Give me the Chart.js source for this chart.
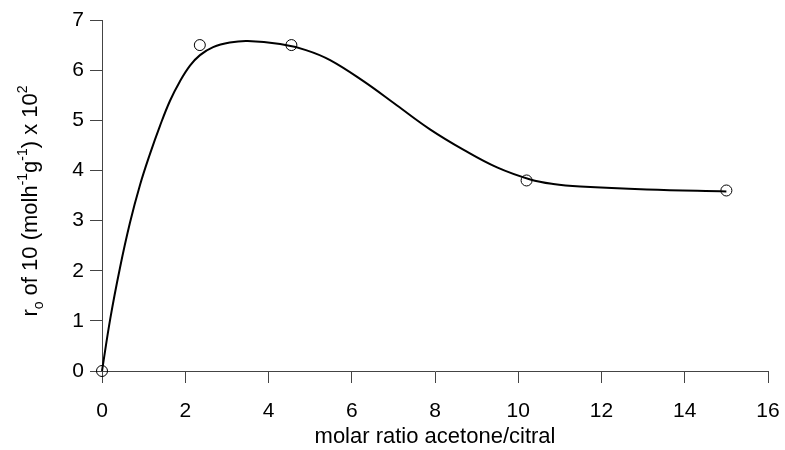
<!DOCTYPE html>
<html>
<head>
<meta charset="utf-8">
<script src="https://cdn.jsdelivr.net/npm/chart.js@4/dist/chart.umd.min.js"></script>
<style>
html,body{margin:0;padding:0;background:#fff;}
#wrap{width:785px;height:450px;position:relative;}
</style>
</head>
<body>
<div id="wrap"><canvas id="c" width="785" height="450"></canvas></div>
<script>
// Measured data points
const pointX = [0, 2.35, 4.55, 10.2, 15.0];
const pointY = [0, 6.5, 6.5, 3.8, 3.6];

// Fitted curve
const curveX = [0, 0.2, 0.43, 0.67, 0.913, 1.153, 1.393, 1.634, 1.874, 2.114, 2.354, 2.67, 3.07, 3.5, 4.28, 4.9, 5.48, 6.28, 7.08, 7.88, 8.69, 9.49, 10.29, 10.84, 11.49, 13.09, 15.0];
const curveY = [0, 1.05, 2.05, 2.95, 3.71, 4.33, 4.89, 5.39, 5.78, 6.09, 6.30, 6.46, 6.55, 6.58, 6.52, 6.40, 6.20, 5.78, 5.30, 4.82, 4.41, 4.06, 3.82, 3.73, 3.68, 3.62, 3.58];

// Axis settings
const xTicks = [0, 2, 4, 6, 8, 10, 12, 14, 16];
const yTicks = [0, 1, 2, 3, 4, 5, 6, 7];
const xTitle = 'molar ratio acetone/citral';
// y title pieces: [text, kind] kind: n normal, sub, sup
const yTitleParts = [['r','n'],['o','sub'],[' of 10 (molh','n'],['-1','sup'],['g','n'],['-1','sup'],[') x 10','n'],['2','sup']];

const FONT = "'Liberation Sans', Arial, Helvetica, sans-serif";
const axisColor = '#444';

const yTitlePlugin = {
  id: 'yTitle',
  afterDraw(chart) {
    const ctx = chart.ctx;
    const size = 22, small = 14;
    ctx.save();
    ctx.fillStyle = '#000';
    ctx.textBaseline = 'alphabetic';
    ctx.textAlign = 'left';
    let total = 0;
    yTitleParts.forEach(([t,k]) => {
      ctx.font = (k === 'n' ? size : small) + 'px ' + FONT;
      total += ctx.measureText(t).width;
    });
    const cy = 201;
    ctx.translate(37, cy + total / 2);
    ctx.rotate(-Math.PI / 2);
    let x = 0;
    yTitleParts.forEach(([t,k]) => {
      ctx.font = (k === 'n' ? size : small) + 'px ' + FONT;
      let dy = 0;
      if (k === 'sub') dy = 6;
      if (k === 'sup') dy = -10;
      ctx.fillText(t, x, dy);
      x += ctx.measureText(t).width;
    });
    ctx.restore();
  }
};

new Chart(document.getElementById('c'), {
  type: 'scatter',
  data: {
    datasets: [
      {
        type: 'line',
        data: curveX.map((x, i) => ({x: x, y: curveY[i]})),
        borderColor: '#000',
        borderWidth: 2,
        pointRadius: 0,
        fill: false,
        tension: 0.4,
        clip: false
      },
      {
        data: pointX.map((x, i) => ({x: x, y: pointY[i]})),
        pointRadius: 5.5,
        pointBorderWidth: 1,
        pointBorderColor: '#000',
        pointBackgroundColor: 'rgba(0,0,0,0)',
        clip: false
      }
    ]
  },
  options: {
    responsive: false,
    animation: false,
    layout: { padding: { left: 0, top: 20, right: 17, bottom: 0 } },
    plugins: { legend: { display: false }, tooltip: { enabled: false } },
    scales: {
      x: {
        type: 'linear',
        min: 0, max: 16,
        afterBuildTicks(scale) { scale.ticks = xTicks.map(v => ({value: v})); },
        afterFit(scale) { scale.height = 79; scale.paddingRight = 0; scale.paddingLeft = 0; },
        grid: { drawOnChartArea: false, drawTicks: true, tickLength: 12, color: axisColor, lineWidth: 1 },
        border: { display: true, color: axisColor, width: 1 },
        ticks: { color: '#000', font: { family: FONT, size: 21 }, padding: 16, maxRotation: 0 },
        title: { display: true, text: xTitle, color: '#000', font: { family: FONT, size: 22 }, padding: { top: 1, bottom: 0 } }
      },
      y: {
        type: 'linear',
        min: 0, max: 7,
        afterBuildTicks(scale) { scale.ticks = yTicks.map(v => ({value: v})); },
        afterFit(scale) { scale.width = 102; },
        grid: { drawOnChartArea: false, drawTicks: true, tickLength: 12, color: axisColor, lineWidth: 1 },
        border: { display: true, color: axisColor, width: 1 },
        ticks: { color: '#000', font: { family: FONT, size: 21 }, padding: 6 }
      }
    }
  },
  plugins: [yTitlePlugin]
});
</script>
</body>
</html>
